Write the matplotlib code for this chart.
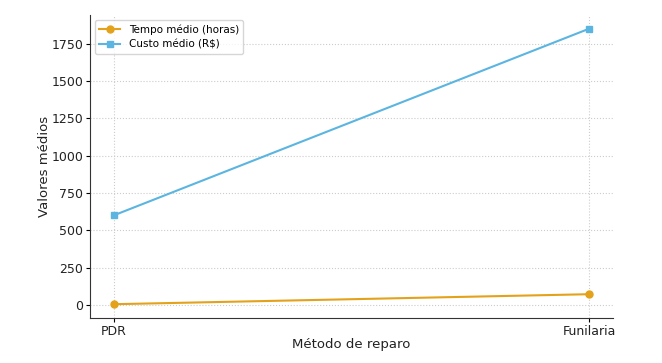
import matplotlib
matplotlib.use("Agg")
import matplotlib.pyplot as plt

metodos = ["PDR", "Funilaria"]
tempo_medio = [5, 72]
custo_medio = [600, 1850]

fig, ax = plt.subplots(figsize=(6.62, 3.63), dpi=100)
fig.subplots_adjust(left=0.136, right=0.926, bottom=0.124, top=0.959)

ax.plot(metodos, tempo_medio, marker="o", color="#E3A21A", markersize=5,
        linewidth=1.5, label="Tempo médio (horas)")
ax.plot(metodos, custo_medio, marker="s", color="#5BB5E0", markersize=5,
        linewidth=1.5, label="Custo médio (R$)")

ax.set_xlabel("Método de reparo", fontsize=9.5, labelpad=0, color="#222222")
ax.set_ylabel("Valores médios", fontsize=9.5, labelpad=0, color="#222222")
ax.grid(True, linestyle=":", color="#cccccc", linewidth=0.8)
ax.spines["top"].set_visible(False)
ax.spines["right"].set_visible(False)
for s in ("left", "bottom"):
    ax.spines[s].set_color("#333333")
ax.tick_params(labelsize=9, length=3, pad=2, labelcolor="#222222")
ax.legend(loc="upper left", fontsize=7.5)

fig.savefig("out.png", dpi=100)
